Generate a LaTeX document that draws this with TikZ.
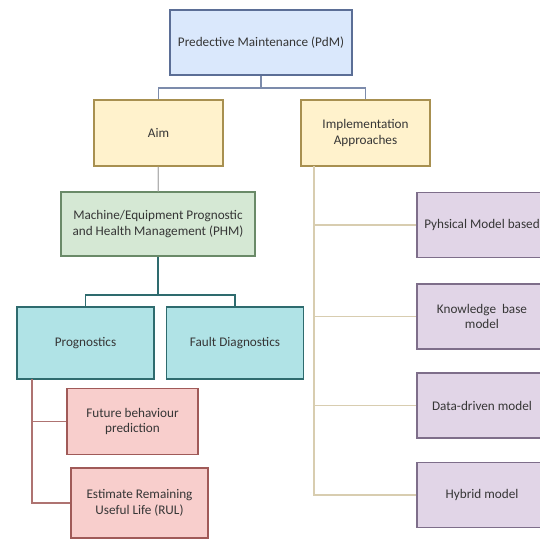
\documentclass[tikz,border=0pt]{standalone}
\usepackage{fontspec}
\setmainfont{Carlito}
\usepackage{tikz}
\usetikzlibrary{positioning}
\definecolor{pdmfill}{HTML}{DAE8FC}
\definecolor{pdmdraw}{HTML}{5B6E96}
\definecolor{aimfill}{HTML}{FFF2CC}
\definecolor{aimdraw}{HTML}{A89050}
\definecolor{phmfill}{HTML}{D5E8D4}
\definecolor{phmdraw}{HTML}{6A8A68}
\definecolor{progfill}{HTML}{B0E3E6}
\definecolor{progdraw}{HTML}{2E6B6E}
\definecolor{rulfill}{HTML}{F8CECC}
\definecolor{ruldraw}{HTML}{A05A58}
\definecolor{modelfill}{HTML}{E1D5E7}
\definecolor{modeldraw}{HTML}{7E6E8A}
\definecolor{txt}{HTML}{363636}
\tikzset{%
  block/.style      = {draw, line width=1.5pt, rectangle, align=center,
    text=txt, font=\fontsize{13.2}{15.5}\selectfont, inner sep=1pt},
  pdmblock/.style   = {block, draw=pdmdraw, fill=pdmfill,
    minimum width=182pt, minimum height=65pt}, % root
  aimblock/.style   = {block, draw=aimdraw, fill=aimfill,
    minimum width=129pt, minimum height=66pt},
  phmblock/.style   = {block, draw=phmdraw, fill=phmfill,
    minimum width=194pt, minimum height=64pt},
  progblock/.style  = {block, draw=progdraw, fill=progfill,
    minimum width=137pt, minimum height=72pt},
  rulblock/.style   = {block, draw=ruldraw, fill=rulfill,
    minimum width=131pt, minimum height=66pt},
  modelblock/.style = {block, draw=modeldraw, fill=modelfill,
    minimum width=130pt, minimum height=65pt}, % right column
  link/.style       = {line width=1.2pt}
}

\begin{document}
\begin{tikzpicture}[x=1pt, y=-1pt]

  \useasboundingbox (0,0) rectangle (540,538);
  \clip (0,0) rectangle (540,538);

  \draw node at (261,42.5) [pdmblock] (pdm) {Predective Maintenance (PdM)};
  \draw node at (158.5,133) [aimblock] (aim) {Aim};
  \draw node at (365.5,133) [aimblock] (impl) {Implementation\\Approaches};
  \draw node at (158,224) [phmblock] (phm) {Machine/Equipment Prognostic\\and Health Management (PHM)};
  \draw node at (85.5,343) [progblock] (prog) {Prognostics};
  \draw node at (235,343) [progblock] (fault) {Fault Diagnostics};
  \draw node at (132.5,421.5) [rulblock] (future) {Future behaviour\\prediction};
  \draw node at (139.5,503) [rulblock, minimum width=137pt, minimum height=70pt] (rul) {Estimate Remaining\\Useful Life (RUL)};

  \draw node at (482,225) [modelblock] (phys) {Pyhsical Model based};
  \draw node at (482,316.5) [modelblock] (know) {Knowledge~~base\\model};
  \draw node at (482,405.5) [modelblock] (data) {Data-driven model};
  \draw node at (482,495) [modelblock] (hybrid) {Hybrid model};

  \coordinate (pdmfork) at (261,88);
  \coordinate (phmfork) at (158,295);
  \coordinate (progtrunk) at (32,379);
  \coordinate (impltrunk) at (314,166);

  \draw[link, color=pdmdraw!80] (pdm) -- (pdmfork) -| (aim);
  \draw[link, color=pdmdraw!80] (pdmfork) -| (impl);
  \draw[link, color=gray!60] (aim) -- (phm);
  \draw[link, color=progdraw] (phm) -- (phmfork) -| (prog);
  \draw[link, color=progdraw] (phmfork) -| (fault);
  \draw[link, color=ruldraw!85] (progtrunk) |- (future);
  \draw[link, color=ruldraw!85] (progtrunk) |- (rul);
  \draw[link, color=aimdraw!45] (impltrunk) |- (phys);
  \draw[link, color=aimdraw!45] (impltrunk) |- (know);
  \draw[link, color=aimdraw!45] (impltrunk) |- (data);
  \draw[link, color=aimdraw!45] (impltrunk) |- (hybrid);

\end{tikzpicture}
\end{document}
